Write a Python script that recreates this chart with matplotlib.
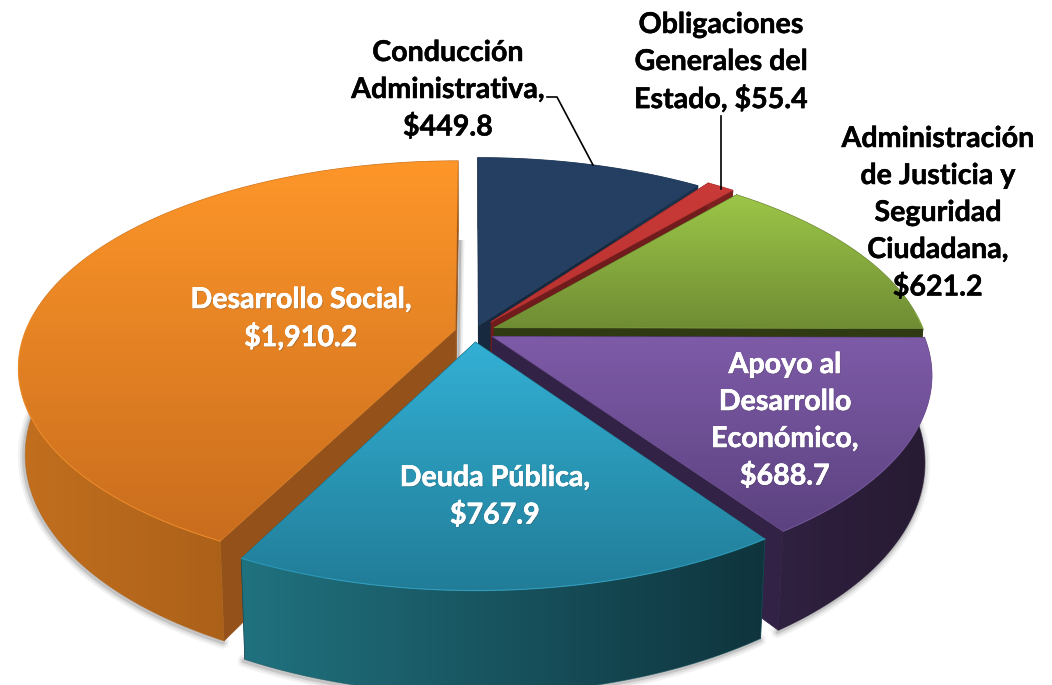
import numpy as np
import matplotlib
matplotlib.use("Agg")
import matplotlib.pyplot as plt
from matplotlib.colors import to_rgb
from matplotlib.patches import Polygon
import matplotlib.patheffects as pe

categories = ["Conducción\nAdministrativa,", "Obligaciones\nGenerales del\nEstado,",
              "Administración\nde Justicia y\nSeguridad\nCiudadana,", "Apoyo al\nDesarrollo\nEconómico,",
              "Deuda Pública,", "Desarrollo Social,"]
values = [449.8, 55.4, 621.2, 688.7, 767.9, 1910.2]
explode = [0.035, 0.065, 0.052, 0.048, 0.05, 0.045]
top_colors = [("#243F62", "#243F62"), ("#C93A38", "#B83230"), ("#9CC648", "#6F8C34"),
              ("#7E5BA8", "#5C4280"), ("#33B0D5", "#217C97"), ("#FE9629", "#C96D1E")]
wall_colors = [("#1B3049", "#1B3049"), ("#7E2020", "#7E2020"), ("#2F3A13", "#2F3A13"),
               ("#2F2140", "#271A32"), ("#20727F", "#0F343D"), ("#C26F1E", "#935114")]
side_colors = ["#17293F", "#701C1C", "#2F3A13", "#322245", "#123C47", "#94521A"]
draw_order = [0, 1, 2, 5, 3, 4]
label_colors = ["black", "black", "black", "white", "white", "white"]
label_xy = [(448, 53), (721, 25), (938, 139), (785, 365), (495, 478), (301, 300)]
line_gap = 37
leaders = {0: ([547, 557, 593], [97, 97, 165]), 1: ([721, 721], [116, 189])}

CX, CY, RX, RY, K, H, ZS = 474, 332, 430, 200, 0.179, 84, 0.015
FONT = "Lato"

def proj(u, v, z=0.0):
    w = 1 + K * v
    x = RX * u / w * (1 - ZS * z)
    y = -RY * v / w + H * z / w
    return CX + x, CY + y

def gradient_poly(ax, xs, ys, c1, c2, horizontal, zorder):
    pts = np.column_stack([xs, ys])
    patch = Polygon(pts, closed=True, fc="none", ec="none", transform=ax.transData)
    ax.add_patch(patch)
    n = 256
    c1, c2 = np.array(to_rgb(c1)), np.array(to_rgb(c2))
    t = np.linspace(0, 1, n)[:, None]
    g = c1 * (1 - t) + c2 * t
    img = g[None, :, :] if horizontal else g[:, None, :]
    im = ax.imshow(img, extent=(xs.min(), xs.max(), ys.max(), ys.min()), aspect="auto",
                   zorder=zorder, interpolation="bilinear")
    im.set_clip_path(patch)
    ax.plot(np.r_[xs, xs[0]], np.r_[ys, ys[0]], lw=0.6,
            color=tuple((c1 + c2) / 2), alpha=0.6, zorder=zorder, solid_joinstyle="round")

fig = plt.figure(figsize=(10.52, 6.85), dpi=100)
ax = fig.add_axes([0, 0, 1, 1])
vals = np.array(values)
edges = np.r_[0, np.cumsum(vals)] / vals.sum() * 2 * np.pi

# soft shadow under the walls (front part only, plus the orange cut edge)
z = 10
for i in draw_order:
    t = np.linspace(edges[i], edges[i + 1], 160)
    mid = (edges[i] + edges[i + 1]) / 2
    ou, ov = explode[i] * np.sin(mid), explode[i] * np.cos(mid)
    ru, rv = ou + np.sin(t), ov + np.cos(t)
    keep = rv < 0.25
    if keep.any():
        bx, by = proj(ru[keep], rv[keep], 1)
        for lw, a in [(9, 0.05), (6, 0.07), (3, 0.12)]:
            ax.plot(bx - 1.0, by + 1.5, color="black", lw=lw, alpha=a, zorder=1, solid_capstyle="round")
    if i == 5:
        ex, ey = proj(ru[-1], rv[-1], 1)
        ax_b, ay_b = proj(ou, ov, 1)
        for lw, a in [(6, 0.06), (3.5, 0.1), (1.5, 0.14)]:
            ax.plot([ex + 2, ax_b + 2], [ey + 8, ay_b - 8], color="black", lw=lw, alpha=a, zorder=1,
                    solid_capstyle="butt")

for i in draw_order:
    t = np.linspace(edges[i], edges[i + 1], 160)
    mid = (edges[i] + edges[i + 1]) / 2
    ou, ov = explode[i] * np.sin(mid), explode[i] * np.cos(mid)
    ru, rv = ou + np.sin(t), ov + np.cos(t)
    ax_, ay_ = proj(ou, ov, 0)
    bx_, by_ = proj(ou, ov, 1)
    # radial walls
    for j in (0, -1):
        tx, ty = proj(ru[j], rv[j], 0)
        ux, uy = proj(ru[j], rv[j], 1)
        ax.fill([ax_, tx, ux, bx_], [ay_, ty, uy, by_], color=side_colors[i], lw=0.5, zorder=z)
    z += 1
    # outer wall
    tx, ty = proj(ru, rv, 0)
    ux, uy = proj(ru, rv, 1)
    gradient_poly(ax, np.r_[tx, ux[::-1]], np.r_[ty, uy[::-1]], *wall_colors[i], True, z)
    z += 1
    # top face
    gradient_poly(ax, np.r_[ax_, tx], np.r_[ay_, ty], *top_colors[i], False, z)
    z += 1
    # bevel highlight along the front rim
    front = rv < 0.1
    if front.any():
        ax.plot(tx[front], ty[front], color=top_colors[i][0], lw=0.9, alpha=0.45, zorder=z)
    z += 1

for i, (xs, ys) in leaders.items():
    ax.plot(xs, ys, color="black", lw=1.2, zorder=z)

for name, v, (x, y), c in zip(categories, values, label_xy, label_colors):
    lines = name.split("\n")
    money = f"${v:,.1f}"
    if lines[-1].startswith("Estado"):
        lines[-1] += " " + money
    else:
        lines.append(money)
    for n, line in enumerate(lines):
        fx = [pe.withStroke(linewidth=0.35, foreground=c)]
        if c == "white":
            fx = [pe.withSimplePatchShadow(offset=(0.8, -0.8), alpha=0.3)] + fx
        ax.text(x, y + n * line_gap, line, ha="center", va="center", color=c, fontsize=20.6,
                fontfamily=FONT, fontweight="bold", zorder=z + 1, path_effects=fx)

ax.set_xlim(0, 1052)
ax.set_ylim(685, 0)
ax.axis("off")
fig.savefig("out.png", dpi=100, facecolor="white")
